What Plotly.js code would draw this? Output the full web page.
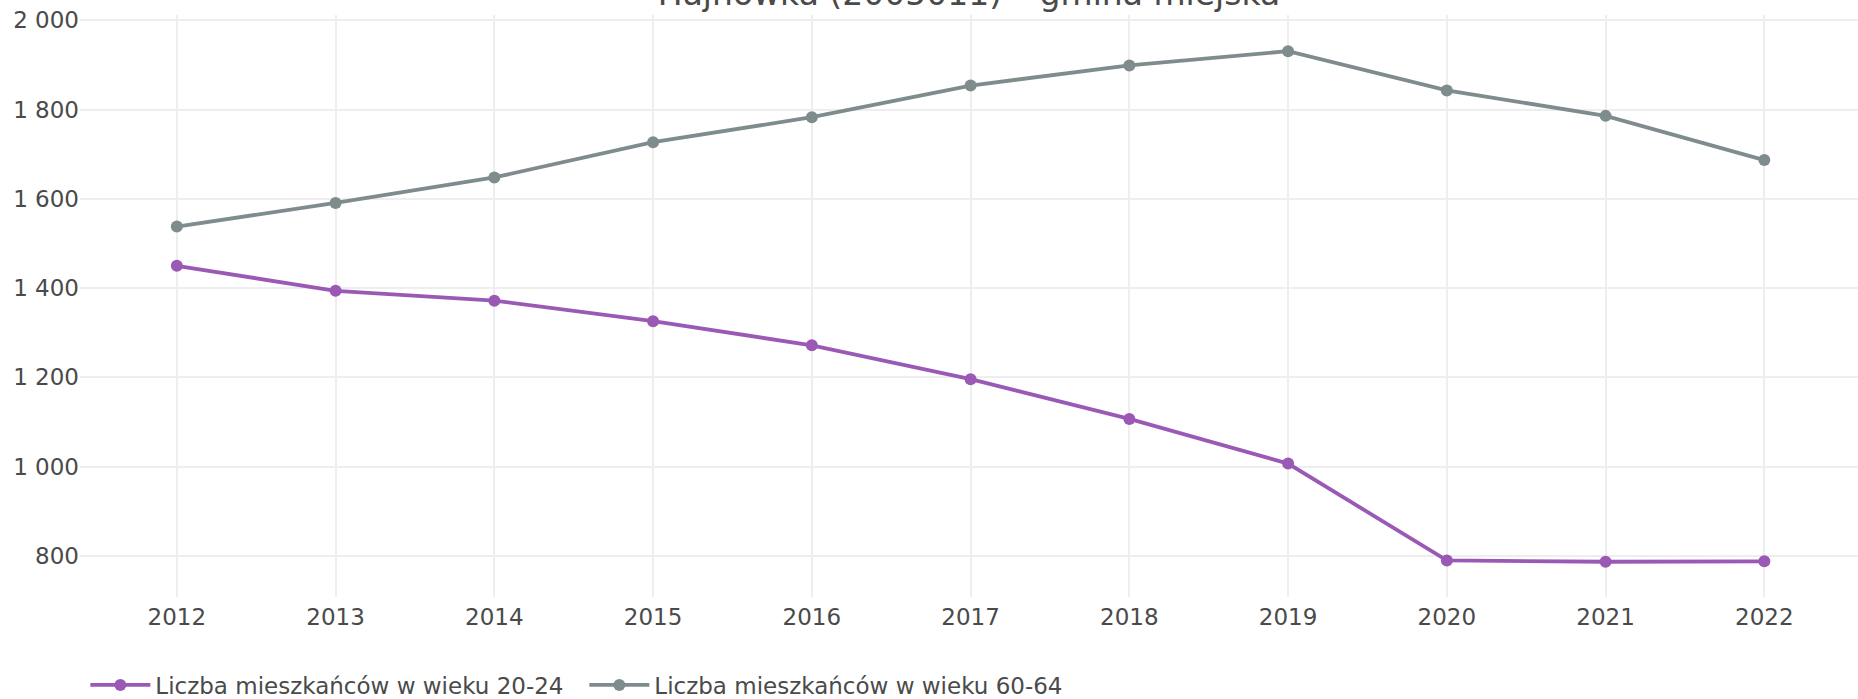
<!DOCTYPE html>
<html>
<head>
<meta charset="utf-8">
<script src="https://cdn.plot.ly/plotly-3.0.1.min.js"></script>
<style>
html, body { margin: 0; padding: 0; background: #fff; }
#chart { width: 1858px; height: 699px; }
</style>
</head>
<body>
<div id="chart"></div>
<script>
const years = [2012, 2013, 2014, 2015, 2016, 2017, 2018, 2019, 2020, 2021, 2022];
const age20to24 = [1450, 1394, 1372, 1326, 1272, 1196, 1107, 1007, 790, 787, 788];
const age60to64 = [1538, 1591, 1648, 1727, 1783, 1854, 1899, 1931, 1843, 1786, 1687];
const seriesNames = ["Liczba mieszkańców w wieku 20-24", "Liczba mieszkańców w wieku 60-64"];
const chartTitle = "Hajnówka (2005011) – gmina miejska";
const yTicks = [800, 1000, 1200, 1400, 1600, 1800, 2000];

const FONT = "DejaVu Sans, Verdana, sans-serif";
const traces = [
  {
    x: years, y: age20to24, name: seriesNames[0], type: "scatter", mode: "lines+markers",
    line: { color: "#9b59b6", width: 3.8 },
    marker: { color: "#9b59b6", size: 12 }
  },
  {
    x: years, y: age60to64, name: seriesNames[1], type: "scatter", mode: "lines+markers",
    line: { color: "#7f8c8d", width: 3.8 },
    marker: { color: "#7f8c8d", size: 12 }
  }
];

const layout = {
  width: 1858, height: 699,
  margin: { l: 80, r: 0, t: 15, b: 102, pad: 0 },
  paper_bgcolor: "#ffffff", plot_bgcolor: "#ffffff",
  font: { family: FONT, size: 23, color: "#4a4a4a" },
  separators: ", ",
  title: {
    text: chartTitle,
    font: { family: FONT, size: 33, color: "#4a4a4a" },
    xref: "paper", x: 0.5, xanchor: "center",
    yref: "paper", y: 1, yanchor: "bottom",
    pad: { t: 0, b: 10, l: 0, r: 0 }
  },
  xaxis: {
    type: "linear", range: [2011.39, 2022.59],
    tickmode: "array", tickvals: years, ticktext: years.map(String),
    showgrid: true, gridcolor: "#eeeeee", gridwidth: 2,
    zeroline: false, showline: false, ticks: "",
    ticklabelstandoff: 4,
    tickfont: { family: FONT, size: 23, color: "#4a4a4a" }
  },
  yaxis: {
    range: [708, 2012],
    tickmode: "array", tickvals: yTicks,
    separatethousands: true, tickformat: ",d",
    showgrid: true, gridcolor: "#eeeeee", gridwidth: 2,
    zeroline: false, showline: false, ticks: "",
    tickfont: { family: FONT, size: 23, color: "#4a4a4a" }
  },
  showlegend: true,
  legend: {
    orientation: "h", x: 0.003, xanchor: "left",
    yref: "container", y: 0.02, yanchor: "middle",
    itemwidth: 60,
    entrywidth: 424, entrywidthmode: "pixels",
    font: { family: FONT, size: 23, color: "#4a4a4a" },
    bgcolor: "rgba(0,0,0,0)"
  },
  hovermode: false
};

Plotly.newPlot("chart", traces, layout, { displayModeBar: false, staticPlot: true });
</script>
</body>
</html>
